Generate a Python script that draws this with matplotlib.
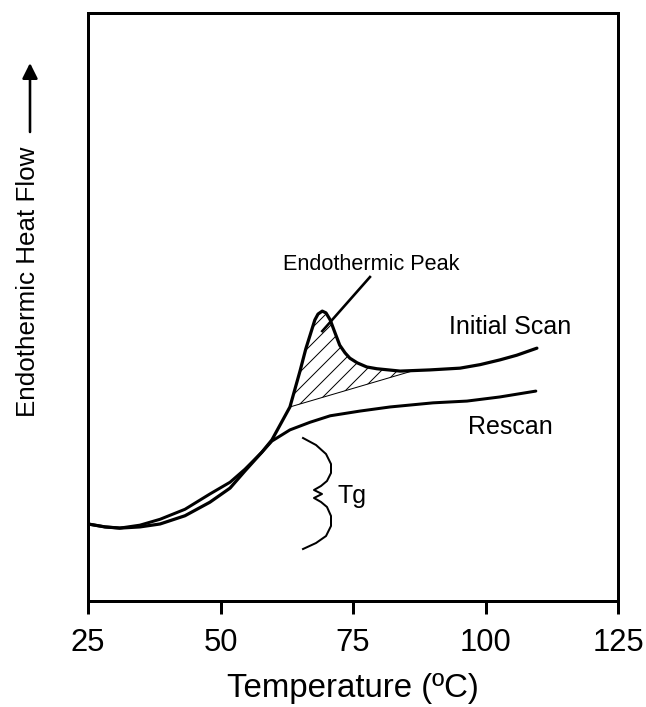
import numpy as np
import matplotlib
matplotlib.use("Agg")
import matplotlib.pyplot as plt

plt.rcParams['font.family'] = ['Liberation Sans', 'DejaVu Sans']
plt.rcParams['hatch.linewidth'] = 0.5

# initial scan (aged sample)
init_t = [25.0, 28.2, 31.0, 34.8, 38.6, 43.3, 48.0, 51.8, 54.6, 57.8, 59.7, 63.1,
          65.0, 66.1, 66.9, 67.8, 68.4, 69.2, 69.9, 70.7, 71.4, 72.5, 73.5, 74.4,
          75.8, 77.6, 79.5, 83.9, 89.5, 95.2, 99.0, 102.7, 105.9, 109.7]
init_y = [13.1, 12.6, 12.4, 12.6, 13.1, 14.5, 16.8, 19.2, 22.1, 25.3, 27.4, 33.0,
          39.1, 42.9, 45.2, 47.8, 48.8, 49.3, 49.0, 47.8, 46.1, 43.5, 42.2, 41.3,
          40.5, 39.8, 39.5, 39.1, 39.3, 39.6, 40.2, 41.0, 41.8, 43.0]

# rescan
res_t = [25.0, 28.2, 31.0, 34.8, 38.6, 43.3, 48.0, 51.8, 54.6, 57.8, 59.7, 63.1,
         66.9, 70.7, 76.3, 82.0, 90.1, 96.5, 102.7, 109.5]
res_y = [13.1, 12.6, 12.4, 12.9, 13.9, 15.6, 18.2, 20.2, 22.4, 25.3, 27.2, 29.1,
         30.4, 31.5, 32.3, 33.0, 33.7, 34.0, 34.7, 35.7]

# straight baseline under the endothermic peak
peak_base_t = [63.1, 86.5]
peak_base_y = [33.0, 39.2]

# Tg brace
brace_t = [65.57, 68.02, 69.91, 70.85, 70.85, 70.09, 68.96, 67.64, 69.15, 67.64,
           68.96, 70.09, 70.85, 70.85, 69.91, 68.02, 65.57]
brace_y = [27.72, 26.53, 25.0, 23.3, 21.77, 20.41, 19.56, 18.88, 18.2, 17.52,
           16.84, 15.99, 14.46, 12.76, 11.05, 9.86, 8.84]

# leader line for the peak label
leader_t = [78.2, 69.2]
leader_y = [55.1, 45.9]

xticks = [25, 50, 75, 100, 125]

fig = plt.figure(figsize=(646 / 144, 707 / 144), dpi=144)
ax = fig.add_axes([88 / 646, 1 - 601 / 707, 530 / 646, 588 / 707])

ax.plot(init_t, init_y, color='black', lw=1.6, solid_joinstyle='round', solid_capstyle='round')
ax.plot(res_t, res_y, color='black', lw=1.5, solid_joinstyle='round', solid_capstyle='round')

# hatched area between the initial scan and the baseline
it = np.array(init_t)
iy = np.array(init_y)
m = (it >= peak_base_t[0]) & (it <= peak_base_t[1])
ft = np.concatenate([[peak_base_t[0]], it[m], [peak_base_t[1]]])
fy = np.concatenate([[peak_base_y[0]], iy[m], [np.interp(peak_base_t[1], it, iy)]])
base = np.interp(ft, peak_base_t, peak_base_y)
ax.fill_between(ft, base, fy, facecolor='none', edgecolor='black', hatch='///', linewidth=0)
ax.plot(peak_base_t, peak_base_y, color='black', lw=0.5)

ax.plot(brace_t, brace_y, color='black', lw=1.0, solid_joinstyle='round')
ax.plot(leader_t, leader_y, color='black', lw=1.3)

ax.text(78.5, 56.3, 'Endothermic Peak', fontsize=10.8, ha='center', va='baseline')
ax.text(104.7, 45.4, 'Initial Scan', fontsize=12.5, ha='center', va='baseline')
ax.text(104.7, 28.4, 'Rescan', fontsize=12.5, ha='center', va='baseline')
ax.text(74.8, 16.7, 'Tg', fontsize=12.5, ha='center', va='baseline')

ax.set_xlim(25, 125)
ax.set_ylim(0, 100)
ax.set_xticks(xticks)
ax.set_yticks([])
ax.tick_params(axis='x', direction='out', length=6.5, width=1.5, labelsize=15.5, pad=7)
for s in ax.spines.values():
    s.set_linewidth(1.5)
ax.set_xlabel('Temperature (ºC)', fontsize=16.5, labelpad=7.5)

fig.text(28 / 646, 1 - 282 / 707, 'Endothermic Heat Flow', rotation=90,
         fontsize=13, ha='center', va='center')
ax.annotate('', xy=(30 / 646, 1 - 63 / 707), xytext=(30 / 646, 1 - 132 / 707),
            xycoords='figure fraction', textcoords='figure fraction',
            arrowprops=dict(arrowstyle='-|>', color='black', lw=1.3, mutation_scale=16,
                            shrinkA=0, shrinkB=0))

fig.savefig('out.png', dpi=144)
